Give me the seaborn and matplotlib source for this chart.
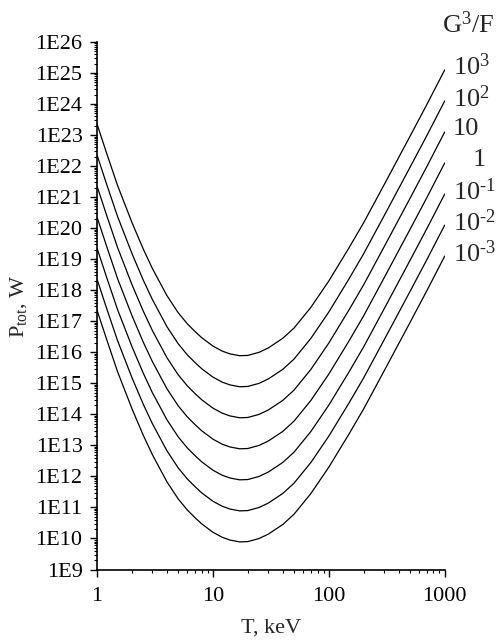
import numpy as np
import pandas as pd
import seaborn as sns
import matplotlib
matplotlib.use("Agg")
import matplotlib.pyplot as plt
from matplotlib.ticker import LogLocator, FuncFormatter, NullFormatter

# --- style ---
sns.set_theme(style="ticks")
plt.rcParams["font.family"] = ["Liberation Serif", "DejaVu Serif"]
plt.rcParams["mathtext.fontset"] = "custom"
plt.rcParams["mathtext.rm"] = "Liberation Serif"
plt.rcParams["mathtext.it"] = "Liberation Serif:italic"
plt.rcParams["mathtext.bf"] = "Liberation Serif:bold"

# --- data (log10 of P_tot in W) ---
T_keV = [1, 1.2, 1.5, 2, 2.5, 3, 4, 5, 6, 7, 8, 10, 12, 14, 17, 20, 25, 30,
         40, 50, 70, 100, 150, 200, 300, 500, 700, 1000]

logP_1e3 = [23.35, 22.45, 21.38, 20.18, 19.33, 18.70, 17.83, 17.28, 16.92, 16.67, 16.47, 16.20, 16.04, 15.95,
            15.89, 15.90, 16.00, 16.14, 16.45, 16.78, 17.45, 18.30, 19.38, 20.18, 21.40, 22.95, 23.98, 25.10]
logP_1e2 = [22.35, 21.45, 20.38, 19.18, 18.33, 17.70, 16.83, 16.28, 15.92, 15.67, 15.47, 15.20, 15.04, 14.95,
            14.89, 14.90, 15.00, 15.14, 15.45, 15.78, 16.45, 17.30, 18.38, 19.18, 20.40, 21.95, 22.98, 24.10]
logP_1e1 = [21.35, 20.45, 19.38, 18.18, 17.33, 16.70, 15.83, 15.28, 14.92, 14.67, 14.47, 14.20, 14.04, 13.95,
            13.89, 13.90, 14.00, 14.14, 14.45, 14.78, 15.45, 16.30, 17.38, 18.18, 19.40, 20.95, 21.98, 23.10]
logP_1e0 = [20.35, 19.45, 18.38, 17.18, 16.33, 15.70, 14.83, 14.28, 13.92, 13.67, 13.47, 13.20, 13.04, 12.95,
            12.89, 12.90, 13.00, 13.14, 13.45, 13.78, 14.45, 15.30, 16.38, 17.18, 18.40, 19.95, 20.98, 22.10]
logP_1em1 = [19.35, 18.45, 17.38, 16.18, 15.33, 14.70, 13.83, 13.28, 12.92, 12.67, 12.47, 12.20, 12.04, 11.95,
             11.89, 11.90, 12.00, 12.14, 12.45, 12.78, 13.45, 14.30, 15.38, 16.18, 17.40, 18.95, 19.98, 21.10]
logP_1em2 = [18.35, 17.45, 16.38, 15.18, 14.33, 13.70, 12.83, 12.28, 11.92, 11.67, 11.47, 11.20, 11.04, 10.95,
             10.89, 10.90, 11.00, 11.14, 11.45, 11.78, 12.45, 13.30, 14.38, 15.18, 16.40, 17.95, 18.98, 20.10]
logP_1em3 = [17.35, 16.45, 15.38, 14.18, 13.33, 12.70, 11.83, 11.28, 10.92, 10.67, 10.47, 10.20, 10.04, 9.95,
             9.89, 9.90, 10.00, 10.14, 10.45, 10.78, 11.45, 12.30, 13.38, 14.18, 15.40, 16.95, 17.98, 19.10]

series_labels = [r"$10^{3}$", r"$10^{2}$", "10", "1",
                 r"$10^{\text{-}1}$", r"$10^{\text{-}2}$", r"$10^{\text{-}3}$"]
series_logP = [logP_1e3, logP_1e2, logP_1e1, logP_1e0, logP_1em1, logP_1em2, logP_1em3]

frames = []
for lab, lp in zip(series_labels, series_logP):
    frames.append(pd.DataFrame({"T": T_keV, "P": np.power(10.0, lp), "G3F": lab}))
df = pd.concat(frames, ignore_index=True)

# --- plot ---
fig = plt.figure(figsize=(4.98, 6.41), dpi=100)
ax = fig.add_axes([0.195, 0.1115, 0.698, 0.823])

sns.lineplot(data=df, x="T", y="P", hue="G3F", palette={l: "black" for l in series_labels},
             legend=False, estimator=None, sort=False, linewidth=0.9, ax=ax)

ax.set_xscale("log")
ax.set_yscale("log")
ax.set_xlim(1, 1000)
ax.set_ylim(1e9, 1e26)

ax.yaxis.set_major_locator(LogLocator(base=10, numticks=40))
ax.yaxis.set_minor_locator(LogLocator(base=10, subs=np.arange(2, 10), numticks=40))
ax.yaxis.set_major_formatter(FuncFormatter(lambda v, p: "1E%d" % int(round(np.log10(v)))))
ax.yaxis.set_minor_formatter(NullFormatter())
ax.xaxis.set_major_locator(LogLocator(base=10, numticks=10))
ax.xaxis.set_minor_locator(LogLocator(base=10, subs=np.arange(2, 10), numticks=10))
ax.xaxis.set_major_formatter(FuncFormatter(lambda v, p: "%d" % int(round(v))))
ax.xaxis.set_minor_formatter(NullFormatter())

ax.tick_params(axis="both", which="major", direction="out", length=5, width=1.0,
               labelsize=16, colors="black")
ax.tick_params(axis="x", which="major", pad=7.5)
ax.tick_params(axis="y", which="major", pad=5.5)
ax.tick_params(axis="both", which="minor", direction="out", length=2.5, width=0.8, colors="black")

sns.despine(ax=ax)
for s in ["left", "bottom"]:
    ax.spines[s].set_linewidth(1.2)
    ax.spines[s].set_color("black")

ax.set_xlabel("T, keV", fontsize=16, labelpad=9)
ax.set_ylabel(r"P$_{\mathrm{tot}}$, W", fontsize=16, labelpad=4.5)

# curve labels at the right ends
x_off = [6, 6, 6, 20, 6, 6, 6]
for lab, lp, dx in zip(series_labels, series_logP, x_off):
    ax.annotate(lab, xy=(T_keV[-1], 10 ** lp[-1]), xytext=(dx, 2), textcoords="offset points",
                ha="left", va="center", fontsize=19, annotation_clip=False)

ax.text(1.068, 1.032, r"G$^{3}$/F", transform=ax.transAxes, ha="center", va="center",
        fontsize=19, clip_on=False)

fig.savefig("out.png", dpi=100)
